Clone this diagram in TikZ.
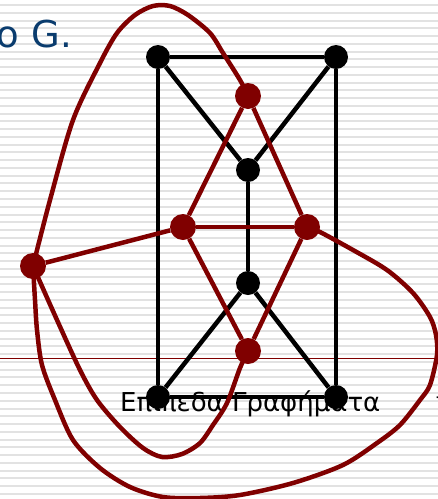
\documentclass[tikz,border=0pt]{standalone}
\usepackage{fontspec}
\setmainfont{DejaVu Sans}
\definecolor{dualred}{RGB}{128,0,0}
\definecolor{titleblue}{RGB}{10,60,110}
\definecolor{stripe}{RGB}{226,226,226}

\begin{document}
\begin{tikzpicture}[x=1pt,y=-1pt,
  vtx/.style={circle,fill=black,inner sep=0pt,minimum size=24pt},
  dvtx/.style={circle,fill=dualred,inner sep=0pt,minimum size=26pt},
  edge/.style={line width=4.5pt},
  dedge/.style={line width=4.5pt,draw=dualred,line join=round}]

% ===== Background =====
\useasboundingbox (0,0) rectangle (438,499);
\fill[white] (0,0) rectangle (438,499);
\foreach \i in {0,...,64} {
    \fill[stripe] (0,{4+7.76*\i}) rectangle (438,{6+7.76*\i});
}
\draw[dualred,line width=0.8pt] (0,358) -- (438,358);

% ===== Texts =====
\node[anchor=base east,inner sep=0pt,text=titleblue,font=\fontsize{37}{40}\selectfont] (title) at (72,47) {o G.};
\node[anchor=base west,inner sep=0pt,font=\fontsize{26}{30}\selectfont] (caption) at (120,411) {Επίπεδα Γραφήματα};
\node[anchor=base west,inner sep=0pt,font=\fontsize{20}{24}\selectfont] (pagenum) at (435,411) {7};

% ===== Graph G (black) =====
\node[vtx] (a) at (158,57) {};
\node[vtx] (b) at (336,57) {};
\node[vtx] (c) at (248,170) {};
\node[vtx] (d) at (248,283) {};
\node[vtx] (e) at (158,397) {};
\node[vtx] (f) at (336,397) {};

\draw[edge] (a) -- (b);
\draw[edge] (b) -- (f);
\draw[edge] (f) -- (e);
\draw[edge] (e) -- (a);
\draw[edge] (a) -- (c);
\draw[edge] (b) -- (c);
\draw[edge] (c) -- (d);
\draw[edge] (d) -- (e);
\draw[edge] (d) -- (f);

% ===== Dual graph (red) =====
\node[dvtx] (t) at (248,96) {};
\node[dvtx] (l) at (183,227) {};
\node[dvtx] (r) at (307,227) {};
\node[dvtx] (m) at (248,351) {};
\node[dvtx] (o) at (33,266) {};

\draw[dedge] (t) -- (l);
\draw[dedge] (t) -- (r);
\draw[dedge] (l) -- (r);
\draw[dedge] (l) -- (m);
\draw[dedge] (r) -- (m);
\draw[dedge] (o) -- (l);

% outer face to top face
\draw[dedge] plot[smooth] coordinates {(o) (50,200) (73,120) (100,63) (117,33) (135,15) (153,6) (170,6) (188,15) (210,33) (223,53) (240,80) (t)};
% outer face to bottom face
\draw[dedge] plot[smooth] coordinates {(o) (57,320) (80,370) (97,400) (120,427) (143,448) (162,457) (182,454) (200,443) (213,425) (227,403) (240,368) (m)};
% outer face to right face
\draw[dedge] plot[smooth] coordinates {(o) (35,300) (37,330) (42,365) (55,400) (73,440) (100,468) (130,487) (163,497) (200,498) (240,495) (293,483) (343,465) (377,443) (400,425) (420,400) (430,385) (437,355) (436,335) (430,317) (413,293) (387,270) (353,250) (320,232) (r)};

\end{tikzpicture}
\end{document}
